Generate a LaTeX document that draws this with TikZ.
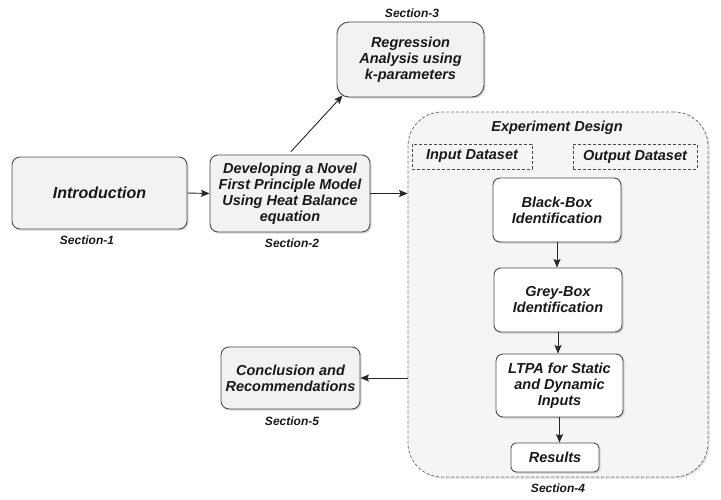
\documentclass[tikz,border=0pt]{standalone}
\usepackage{fontspec}
\setmainfont{Liberation Sans}
\usetikzlibrary{shadows,arrows.meta}
\definecolor{boxgrey}{HTML}{F2F2F2}
\definecolor{biggrey}{HTML}{F5F5F5}
\definecolor{edge}{HTML}{4A4A4A}
\begin{document}
\begin{tikzpicture}[x=1pt,y=-1pt,
  txt/.style={font=\fontsize{14.5}{16}\selectfont\bfseries\itshape, align=center, text=black!90},
  box/.style={txt, draw=edge, fill=boxgrey, rounded corners=8pt, line width=0.9pt, inner sep=0pt,
    drop shadow={opacity=0.3, shadow xshift=1.5pt, shadow yshift=-1.5pt}},
  wbox/.style={box, fill=white, rounded corners=7pt},
  dbox/.style={txt, draw=edge, fill=biggrey, dash pattern=on 3pt off 2pt, line width=0.8pt, inner sep=0pt},
  seclab/.style={font=\fontsize{12}{14}\selectfont\bfseries\itshape, text=black!90},
  arr/.style={-{Stealth[length=8.5pt,width=7pt,inset=1.5pt]}, line width=0.9pt, draw=black!85}
]
\useasboundingbox (0,0) rectangle (721,499);

\node[box, minimum width=175pt, minimum height=72pt, font=\fontsize{16}{18}\selectfont\bfseries\itshape] (intro) at (99.5,193) {Introduction};
\node[box, minimum width=160pt, minimum height=77pt] (dev) at (290,193.5) {Developing a Novel\\First Principle Model\\Using Heat Balance\\equation};
\node[box, minimum width=147pt, minimum height=75pt, rounded corners=12pt] (reg) at (410.5,59.5) {Regression\\Analysis using\\k-parameters};

\node[draw=black!55, dash pattern=on 3pt off 2pt, fill=biggrey, rounded corners=34pt, line width=0.8pt, minimum width=300pt, minimum height=365pt, inner sep=0pt,
  drop shadow={opacity=0.25, shadow xshift=1.5pt, shadow yshift=-1.5pt}] (big) at (558,294.5) {};
\node[txt] (exptitle) at (557,128) {Experiment Design};
\node[dbox, minimum width=120pt, minimum height=25pt] (inp) at (472,156.5) {Input Dataset};
\node[dbox, minimum width=124pt, minimum height=25pt] (outp) at (635,156.5) {Output Dataset};

\node[wbox, minimum width=128pt, minimum height=64pt] (bb) at (557,210) {Black-Box\\Identification};
\node[wbox, minimum width=128pt, minimum height=64pt] (gb) at (558,300) {Grey-Box\\Identification};
\node[wbox, minimum width=127pt, minimum height=63pt] (ltpa) at (559.5,385.5) {LTPA for Static\\and Dynamic\\Inputs};
\node[wbox, minimum width=88pt, minimum height=29pt, rounded corners=5pt] (res) at (555,457.5) {Results};

\node[box, minimum width=139pt, minimum height=62pt] (conc) at (290.5,378) {Conclusion and\\Recommendations};

\node[seclab] (s1) at (87,240) {Section-1};
\node[seclab] (s2) at (292,243) {Section-2};
\node[seclab] (s3) at (412,13) {Section-3};
\node[seclab] (s4) at (558,488) {Section-4};
\node[seclab] (s5) at (292,421) {Section-5};

\draw[arr] (intro.east) -- (dev.west);
\draw[arr] (dev.east) -- (dev.east -| big.west);
\draw[arr] ([xshift=1pt,yshift=3pt]dev.north) -- ([xshift=6pt,yshift=2pt]reg.south west);
\draw[arr] (bb.south) -- (bb.south |- gb.north);
\draw[arr] (gb.south) -- (gb.south |- ltpa.north);
\draw[arr] (ltpa.south) -- (ltpa.south |- res.north);
\draw[arr] (conc.east -| big.west) -- (conc.east);
\end{tikzpicture}
\end{document}
